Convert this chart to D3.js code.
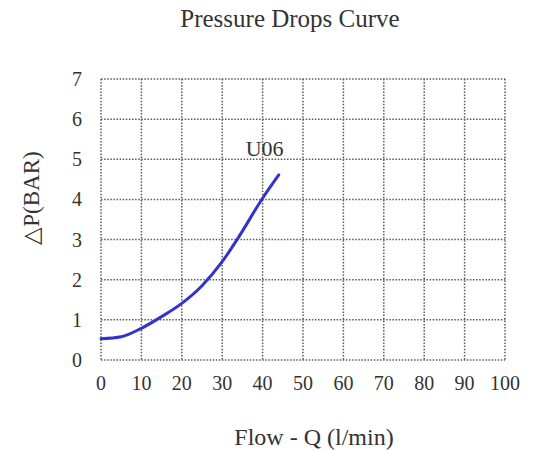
<!DOCTYPE html>
<html>
<head>
<meta charset="utf-8">
<script src="https://cdn.jsdelivr.net/npm/d3@7"></script>
<style>
  body { margin: 0; background: #fff; }
  svg text { font-family: "Liberation Serif", "Times New Roman", serif; fill: #333; }
</style>
</head>
<body>
<div id="chart"></div>
<script>
// data
const flow = [0, 5, 10, 15, 20, 25, 30, 34, 40, 44];
const pressure = [0.53, 0.58, 0.79, 1.08, 1.41, 1.85, 2.45, 3.05, 4.03, 4.61];
const xTicks = [0, 10, 20, 30, 40, 50, 60, 70, 80, 90, 100];
const yTicks = [0, 1, 2, 3, 4, 5, 6, 7];
const seriesName = "U06";

const width = 542, height = 450;
const margin = {top: 79, right: 37, bottom: 90, left: 101};
const w = width - margin.left - margin.right,
      h = height - margin.top - margin.bottom;

const svg = d3.select("#chart")
  .append("svg")
    .attr("width", width)
    .attr("height", height);

const g = svg.append("g")
    .attr("transform", `translate(${margin.left},${margin.top})`);

const x = d3.scaleLinear().domain([0, 100]).range([0, w]);
const y = d3.scaleLinear().domain([0, 7]).range([h, 0]);

// dotted grid
g.append("g")
  .selectAll("line")
  .data(xTicks)
  .join("line")
    .attr("x1", d => x(d)).attr("x2", d => x(d))
    .attr("y1", 0).attr("y2", h)
    .attr("stroke", "#5a5a5a")
    .attr("stroke-width", 1.5)
    .attr("stroke-dasharray", "1.5,1.6");

g.append("g")
  .selectAll("line")
  .data(yTicks)
  .join("line")
    .attr("x1", 0).attr("x2", w)
    .attr("y1", d => y(d)).attr("y2", d => y(d))
    .attr("stroke", "#5a5a5a")
    .attr("stroke-width", 1.5)
    .attr("stroke-dasharray", "1.5,1.6");

// x tick labels
g.append("g")
  .selectAll("text")
  .data(xTicks)
  .join("text")
    .attr("x", d => x(d))
    .attr("y", h + 30)
    .attr("text-anchor", "middle")
    .attr("font-size", 20)
    .text(d => d);

// y tick labels
g.append("g")
  .selectAll("text")
  .data(yTicks)
  .join("text")
    .attr("x", -19)
    .attr("y", d => y(d))
    .attr("dy", "0.35em")
    .attr("text-anchor", "end")
    .attr("font-size", 20)
    .text(d => d);

// the curve
const pts = flow.map((f, i) => ({q: f, p: pressure[i]}));
g.append("path")
  .datum(pts)
  .attr("fill", "none")
  .attr("stroke", "#3333cc")
  .attr("stroke-width", 3)
  .attr("stroke-linecap", "round")
  .attr("d", d3.line()
    .x(d => x(d.q))
    .y(d => y(d.p))
    .curve(d3.curveMonotoneX));

// series label
g.append("text")
  .attr("x", x(40.5))
  .attr("y", y(5.07))
  .attr("text-anchor", "middle")
  .attr("font-size", 22)
  .text(seriesName);

// title
svg.append("text")
  .attr("x", 290)
  .attr("y", 27)
  .attr("text-anchor", "middle")
  .attr("font-size", 25)
  .text("Pressure Drops Curve");

// x label
svg.append("text")
  .attr("x", 314)
  .attr("y", 445)
  .attr("text-anchor", "middle")
  .attr("font-size", 24)
  .text("Flow - Q (l/min)");

// y label
svg.append("text")
  .attr("transform", "translate(39,198) rotate(-90)")
  .attr("text-anchor", "middle")
  .attr("font-size", 23)
  .text("\u25B3P(BAR)");
</script>
</body>
</html>
